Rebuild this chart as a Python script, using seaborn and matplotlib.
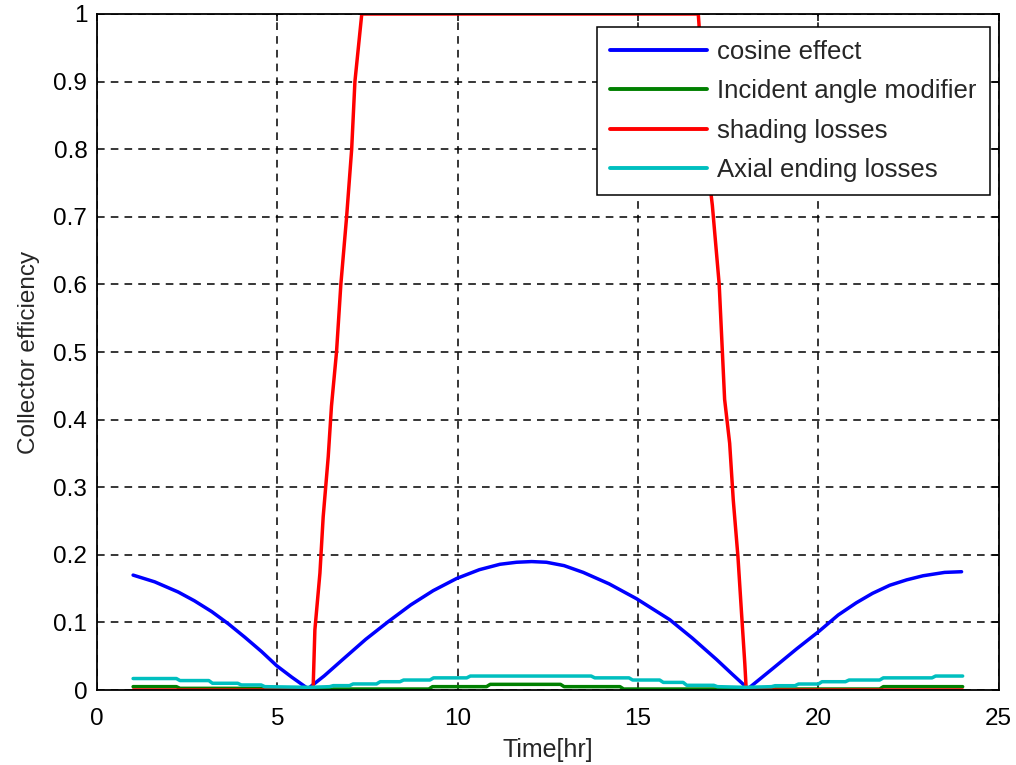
import numpy as np
import pandas as pd
import matplotlib
matplotlib.use("Agg")
import matplotlib.pyplot as plt
import seaborn as sns

# ---- data ----
labels = ["cosine effect", "Incident angle modifier", "shading losses", "Axial ending losses"]
colors = ["#0000ff", "#008000", "#ff0000", "#00bfbf"]

cos_t = [1.0, 1.6, 2.25, 2.7, 3.18, 3.64, 4.1, 4.56, 4.98, 5.4, 5.85, 6.3, 6.83, 7.45, 8.07, 8.7, 9.32, 9.97,
         10.6, 11.17, 11.63, 12.05, 12.46, 12.95, 13.48, 14.2, 14.96, 15.88, 16.5, 17.18, 17.6, 18.05,
         18.74, 19.4, 20.02, 20.55, 21.05, 21.5, 21.98, 22.45, 22.9, 23.5, 23.97]
cos_v = [0.170, 0.160, 0.145, 0.132, 0.116, 0.098, 0.078, 0.057, 0.036, 0.019, 0.002, 0.021, 0.046, 0.075, 0.101, 0.126, 0.147, 0.165,
         0.178, 0.186, 0.189, 0.190, 0.189, 0.184, 0.174, 0.157, 0.135, 0.104, 0.077, 0.045, 0.024, 0.002,
         0.032, 0.061, 0.087, 0.111, 0.129, 0.143, 0.155, 0.163, 0.169, 0.174, 0.175]

iam_t = [1.0, 2.2, 2.3, 4.55, 4.65, 6.45, 6.55, 9.2, 9.3, 10.8, 10.9, 12.85, 12.95, 14.5,
         14.6, 17.3, 17.4, 18.7, 18.8, 21.7, 21.8, 24.0]
iam_v = [0.005, 0.005, 0.0025, 0.0025, 0.0005, 0.0005, 0.0015, 0.0015, 0.005, 0.005, 0.0084, 0.0084, 0.005, 0.005,
         0.0015, 0.0015, 0.0005, 0.0005, 0.0015, 0.0015, 0.005, 0.005]

shd_t = [1.0, 5.99, 6.04, 6.18, 6.27, 6.41, 6.50, 6.64, 6.76, 6.92, 7.06, 7.15, 7.34,
         16.67, 17.0, 17.06, 17.25, 17.40, 17.54, 17.64, 17.77, 17.87, 17.96, 18.0, 24.0]
shd_v = [0.0, 0.0, 0.089, 0.173, 0.256, 0.345, 0.42, 0.5, 0.6, 0.7, 0.8, 0.9, 1.0,
         1.0, 0.744, 0.717, 0.6, 0.43, 0.365, 0.281, 0.197, 0.113, 0.039, 0.0, 0.0]

axe_t = [1.0, 2.2, 2.3, 3.1, 3.2, 3.9, 4.0, 4.55, 4.65, 5.9, 6.45, 6.55, 7.0, 7.1, 7.75, 7.85,
         8.4, 8.5, 9.23, 9.33, 10.25, 10.35, 13.7, 13.8, 14.75, 14.85, 15.6, 15.7, 16.25, 16.35,
         17.1, 17.2, 18.0, 18.7, 18.8, 19.35, 19.45, 20.0, 20.1, 20.75, 20.85, 21.7, 21.8, 23.15, 23.25, 24.0]
axe_v = [0.017, 0.017, 0.014, 0.014, 0.010, 0.010, 0.0075, 0.0075, 0.005, 0.004, 0.005, 0.0065, 0.0065, 0.009, 0.009, 0.0123,
         0.0123, 0.0148, 0.0148, 0.018, 0.018, 0.0207, 0.0207, 0.018, 0.018, 0.0148, 0.0148, 0.0113, 0.0113, 0.007,
         0.007, 0.005, 0.004, 0.005, 0.0064, 0.0064, 0.0089, 0.0089, 0.0123, 0.0123, 0.0148, 0.0148, 0.018, 0.018, 0.0207, 0.0207]

xticks = [0, 5, 10, 15, 20, 25]
yticks = [0, 0.1, 0.2, 0.3, 0.4, 0.5, 0.6, 0.7, 0.8, 0.9, 1]
ytick_labels = ["0", "0.1", "0.2", "0.3", "0.4", "0.5", "0.6", "0.7", "0.8", "0.9", "1"]

frames = []
for name, t, v in zip(labels, [cos_t, iam_t, shd_t, axe_t], [cos_v, iam_v, shd_v, axe_v]):
    frames.append(pd.DataFrame({"Time": t, "Eff": v, "series": name}))
df = pd.concat(frames, ignore_index=True)

sns.set_style("white")
plt.rcParams["font.family"] = ["Liberation Sans", "DejaVu Sans"]
plt.rcParams["font.size"] = 17.5

fig = plt.figure(figsize=(10.16, 7.65), dpi=100)
ax = fig.add_axes([0.0955, 0.098, 0.8875, 0.8837])

sns.lineplot(data=df, x="Time", y="Eff", hue="series", hue_order=labels,
             palette=dict(zip(labels, colors)), estimator=None, sort=False,
             units="series", linewidth=2.5, ax=ax)

ax.set_xlim(0, 25)
ax.set_ylim(0, 1)
ax.set_xticks(xticks)
ax.set_xticklabels([str(x) for x in xticks])
ax.set_yticks(yticks)
ax.set_yticklabels(ytick_labels)
ax.set_xlabel("Time[hr]", fontsize=18, labelpad=6)
ax.set_ylabel("Collector efficiency", fontsize=17.5, labelpad=10)

ax.grid(True, color="black", linestyle=(0, (5, 4)), linewidth=1.1)
ax.set_axisbelow(True)
for s in ax.spines.values():
    s.set_visible(True)
    s.set_color("black")
    s.set_linewidth(1.3)
ax.tick_params(direction="in", length=5, width=1.1, top=True, right=True,
               labelsize=17.5, colors="black", pad=7)
ax.tick_params(axis="x", pad=13)

leg = ax.legend(loc="upper right", bbox_to_anchor=(0.990, 0.981), borderaxespad=0,
                fontsize=18.5, handlelength=3.8, handletextpad=0.4, labelspacing=0.6,
                frameon=True, fancybox=False, framealpha=1, borderpad=0.5)
leg.get_frame().set_edgecolor("black")
leg.get_frame().set_linewidth(1.1)
for h in leg.get_lines():
    h.set_linewidth(2.8)

fig.savefig("out.png", dpi=100)
